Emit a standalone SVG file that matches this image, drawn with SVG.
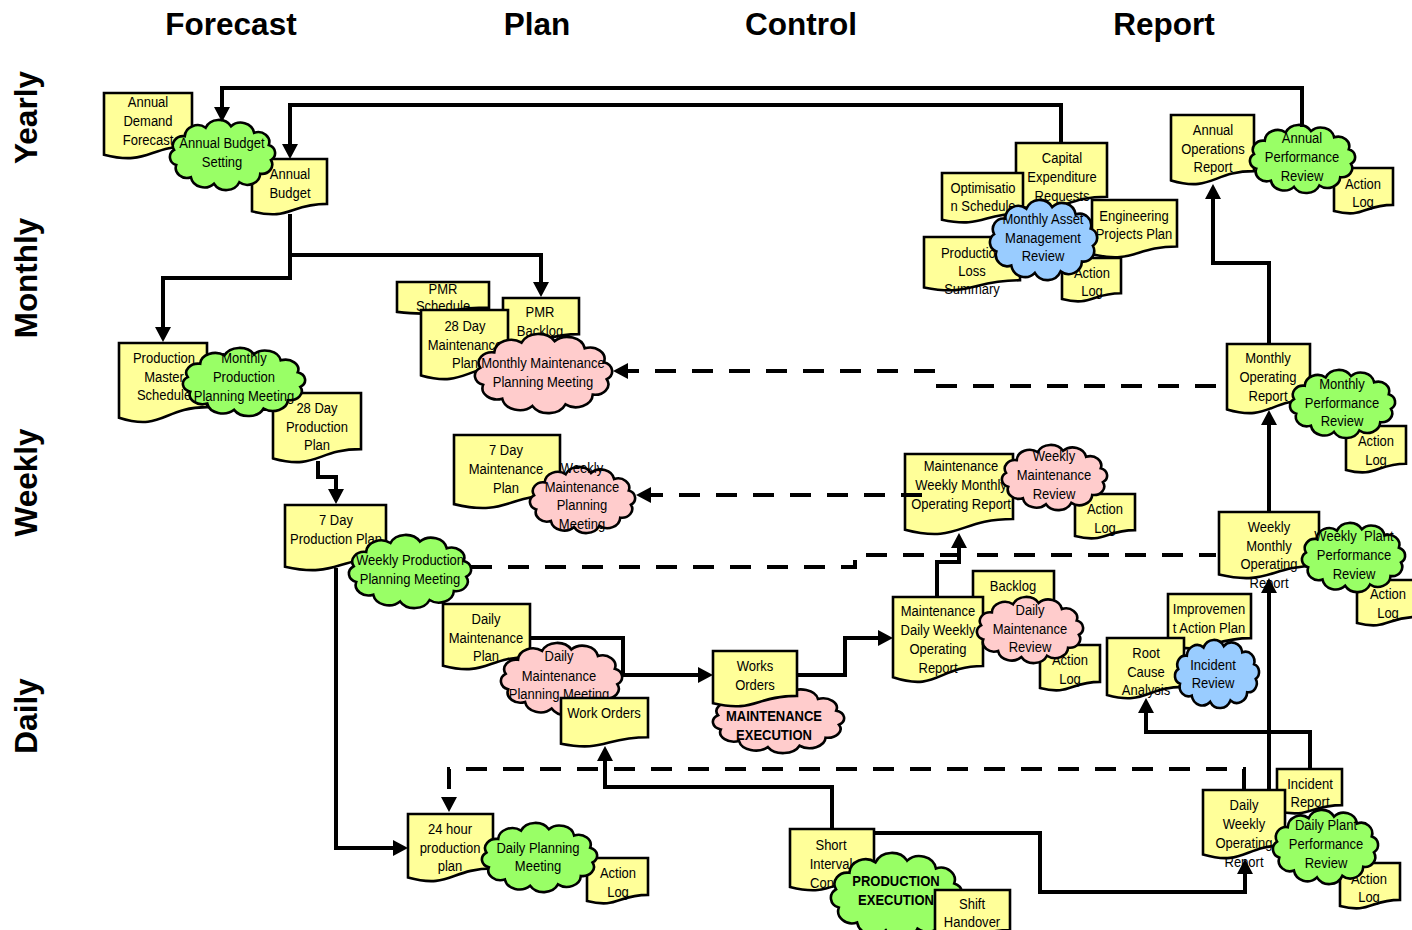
<svg xmlns="http://www.w3.org/2000/svg" width="1412" height="930" viewBox="0 0 1412 930">
<style>
  .doc { fill: #FFFF99; stroke: #000; stroke-width: 2.6; }
  .cl { stroke: #000; stroke-width: 2.6; }
  .green { fill: #99FF66; }
  .pink { fill: #FFCCCC; }
  .blue { fill: #99CCFF; }
  .t { font-family: "Liberation Sans", Arial, sans-serif; font-size: 15.5px; text-anchor: middle; fill: #000; }
  .b { font-weight: bold; }
  .hd { font-family: "Liberation Sans", Arial, sans-serif; font-size: 31.5px; font-weight: bold; text-anchor: middle; fill: #000; }
  .c { fill: none; stroke: #000; stroke-width: 4; stroke-linejoin: miter; }
  .d { stroke-dasharray: 21 16; }
</style>
<defs>
  <!-- flowchart document: box with wavy lower edge, 100x100 units -->
  <path id="doc" vector-effect="non-scaling-stroke" d="M0,0H100V80.2C50,80.2 50,110.7 0,93.4Z"/>
  <!-- cloud outline, fitted to a 100x70 unit box -->
  <path id="cloud" vector-effect="non-scaling-stroke" transform="translate(-2.08 0.49) scale(1.0417 0.986)" d="M5.7,29.9A9.5,9.5 0 0 1 15.5,16A11.8,11.8 0 0 1 34.6,7.3A13,13 0 0 1 57.8,5.9A12.4,12.4 0 0 1 78.9,12.4A10.2,10.2 0 0 1 92.3,24.9A8.57,8.57 0 0 1 94.3,40.1A9.5,9.5 0 0 1 84.5,54A11.8,11.8 0 0 1 65.4,62.7A13,13 0 0 1 42.2,64.1A12.4,12.4 0 0 1 21.1,57.6A10.2,10.2 0 0 1 7.7,45.1A8.57,8.57 0 0 1 5.7,29.9Z"/>
  <marker id="arr" markerUnits="userSpaceOnUse" markerWidth="16" markerHeight="16" viewBox="0 0 16 16" refX="5" refY="8" orient="auto">
    <path d="M0,0L15,8L0,16Z" fill="#000"/>
  </marker>
</defs>
<rect width="1412" height="930" fill="#fff"/>

<!-- column and row headings -->
<g id="headings">
  <text class="hd" x="231" y="35">Forecast</text>
  <text class="hd" x="537" y="35">Plan</text>
  <text class="hd" x="801" y="35">Control</text>
  <text class="hd" x="1164" y="35">Report</text>
  <text class="hd" transform="translate(37 117.5) rotate(-90)">Yearly</text>
  <text class="hd" transform="translate(37 278) rotate(-90)">Monthly</text>
  <text class="hd" transform="translate(37 482.5) rotate(-90)">Weekly</text>
  <text class="hd" transform="translate(37 716) rotate(-90)">Daily</text>
</g>

<!-- yearly forecast -->
<g id="annual-demand-forecast">
  <use href="#doc" class="doc" transform="translate(104 93) scale(.88 .66)"/>
  <text class="t" transform="translate(148 0) scale(.84 1)"><tspan x="0" y="107.5">Annual</tspan><tspan x="0" y="126.5">Demand</tspan><tspan x="0" y="145">Forecast</tspan></text>
</g>
<g id="annual-budget">
  <use href="#doc" class="doc" transform="translate(252 159) scale(.75 .56)"/>
  <text class="t" transform="translate(290 0) scale(.84 1)"><tspan x="0" y="179.5">Annual</tspan><tspan x="0" y="198.5">Budget</tspan></text>
</g>
<g id="annual-budget-setting">
  <use href="#cloud" class="cl green" transform="translate(170 120) scale(1.05 1)"/>
  <text class="t" transform="translate(222 0) scale(.84 1)"><tspan x="0" y="148">Annual Budget</tspan><tspan x="0" y="167.5">Setting</tspan></text>
</g>

<!-- monthly asset management -->
<g id="capital-expenditure-requests">
  <use href="#doc" class="doc" transform="translate(1016 143) scale(.91 .67)"/>
  <text class="t" transform="translate(1062 0) scale(.84 1)"><tspan x="0" y="163.5">Capital</tspan><tspan x="0" y="182.5">Expenditure</tspan><tspan x="0" y="201.5">Requests</tspan></text>
</g>
<g id="optimisation-schedule">
  <use href="#doc" class="doc" transform="translate(942 173) scale(.81 .5)"/>
  <text class="t" transform="translate(983 0) scale(.84 1)"><tspan x="0" y="193">Optimisatio</tspan><tspan x="0" y="211.5">n Schedule</tspan></text>
</g>
<g id="production-loss-summary">
  <use href="#doc" class="doc" transform="translate(924 237) scale(.96 .54)"/>
  <text class="t" transform="translate(972 0) scale(.84 1)"><tspan x="0" y="258.5">Production</tspan><tspan x="0" y="276.5">Loss</tspan><tspan x="0" y="294.5">Summary</tspan></text>
</g>
<g id="engineering-projects-plan">
  <use href="#doc" class="doc" transform="translate(1092 200) scale(.85 .58)"/>
  <text class="t" transform="translate(1134 0) scale(.84 1)"><tspan x="0" y="221.5">Engineering</tspan><tspan x="0" y="239.5">Projects Plan</tspan></text>
</g>
<g id="asset-action-log">
  <use href="#doc" class="doc" transform="translate(1062 258) scale(.59 .44)"/>
  <text class="t" transform="translate(1092 0) scale(.84 1)"><tspan x="0" y="278.5">Action</tspan><tspan x="0" y="296.5">Log</tspan></text>
</g>
<g id="monthly-asset-management-review">
  <use href="#cloud" class="cl blue" transform="translate(990 200) scale(1.07 1.143)"/>
  <text class="t" transform="translate(1043 0) scale(.84 1)"><tspan x="0" y="224.5">Monthly Asset</tspan><tspan x="0" y="243">Management</tspan><tspan x="0" y="261.5">Review</tspan></text>
</g>

<!-- yearly report -->
<g id="annual-operations-report">
  <use href="#doc" class="doc" transform="translate(1171 115) scale(.83 .7)"/>
  <text class="t" transform="translate(1213 0) scale(.84 1)"><tspan x="0" y="135.5">Annual</tspan><tspan x="0" y="154">Operations</tspan><tspan x="0" y="172.5">Report</tspan></text>
</g>
<g id="annual-action-log">
  <use href="#doc" class="doc" transform="translate(1334 168) scale(.59 .46)"/>
  <text class="t" transform="translate(1363 0) scale(.84 1)"><tspan x="0" y="189.5">Action</tspan><tspan x="0" y="207.5">Log</tspan></text>
</g>
<g id="annual-performance-review">
  <use href="#cloud" class="cl green" transform="translate(1250 125) scale(1.05 .971)"/>
  <text class="t" transform="translate(1302 0) scale(.84 1)"><tspan x="0" y="143">Annual</tspan><tspan x="0" y="162.5">Performance</tspan><tspan x="0" y="181.5">Review</tspan></text>
</g>

<!-- monthly plan -->
<g id="pmr-schedule">
  <use href="#doc" class="doc" transform="translate(397 282) scale(.92 .32)"/>
  <text class="t" transform="translate(443 0) scale(.84 1)"><tspan x="0" y="294.5">PMR</tspan><tspan x="0" y="311.5">Schedule</tspan></text>
</g>
<g id="pmr-backlog">
  <use href="#doc" class="doc" transform="translate(503 298) scale(.76 .45)"/>
  <text class="t" transform="translate(540 0) scale(.84 1)"><tspan x="0" y="317.5">PMR</tspan><tspan x="0" y="336.5">Backlog</tspan></text>
</g>
<g id="maintenance-plan-28-day">
  <use href="#doc" class="doc" transform="translate(421 310) scale(.87 .7)"/>
  <text class="t" transform="translate(465 0) scale(.84 1)"><tspan x="0" y="331.5">28 Day</tspan><tspan x="0" y="350.5">Maintenance</tspan><tspan x="0" y="368.5">Plan</tspan></text>
</g>
<g id="monthly-maintenance-planning-meeting">
  <use href="#cloud" class="cl pink" transform="translate(475 334) scale(1.37 1.129)"/>
  <text class="t" transform="translate(543 0) scale(.84 1)"><tspan x="0" y="368.5">Monthly Maintenance</tspan><tspan x="0" y="387">Planning Meeting</tspan></text>
</g>

<!-- monthly forecast -->
<g id="production-master-schedule">
  <use href="#doc" class="doc" transform="translate(119 343) scale(.88 .8)"/>
  <text class="t" transform="translate(164 0) scale(.84 1)"><tspan x="0" y="363.5">Production</tspan><tspan x="0" y="382.5">Master</tspan><tspan x="0" y="400.5">Schedule</tspan></text>
</g>
<g id="production-plan-28-day">
  <use href="#doc" class="doc" transform="translate(273 393) scale(.88 .7)"/>
  <text class="t" transform="translate(317 0) scale(.84 1)"><tspan x="0" y="413.5">28 Day</tspan><tspan x="0" y="432.5">Production</tspan><tspan x="0" y="450.5">Plan</tspan></text>
</g>
<g id="monthly-production-planning-meeting">
  <use href="#cloud" class="cl green" transform="translate(183 348) scale(1.22 .971)"/>
  <text class="t" transform="translate(244 0) scale(.84 1)"><tspan x="0" y="363.5">Monthly</tspan><tspan x="0" y="382.5">Production</tspan><tspan x="0" y="401">Planning Meeting</tspan></text>
</g>

<!-- weekly forecast -->
<g id="production-plan-7-day">
  <use href="#doc" class="doc" transform="translate(285 505) scale(1.01 .66)"/>
  <text class="t" transform="translate(336 0) scale(.84 1)"><tspan x="0" y="525.5">7 Day</tspan><tspan x="0" y="544.5">Production Plan</tspan></text>
</g>
<g id="weekly-production-planning-meeting">
  <use href="#cloud" class="cl green" transform="translate(349 535) scale(1.22 1.043)"/>
  <text class="t" transform="translate(410 0) scale(.84 1)"><tspan x="0" y="565.5">Weekly Production</tspan><tspan x="0" y="584.5">Planning Meeting</tspan></text>
</g>

<!-- weekly plan -->
<g id="maintenance-plan-7-day">
  <use href="#doc" class="doc" transform="translate(454 435) scale(1.06 .74)"/>
  <text class="t" transform="translate(506 0) scale(.84 1)"><tspan x="0" y="455.5">7 Day</tspan><tspan x="0" y="474.5">Maintenance</tspan><tspan x="0" y="493.5">Plan</tspan></text>
</g>
<g id="weekly-maintenance-planning-meeting">
  <use href="#cloud" class="cl pink" transform="translate(530 467) scale(1.05 .943)"/>
  <text class="t" transform="translate(582 0) scale(.84 1)"><tspan x="0" y="473.5">Weekly</tspan><tspan x="0" y="492.5">Maintenance</tspan><tspan x="0" y="510.5">Planning</tspan><tspan x="0" y="529.5">Meeting</tspan></text>
</g>

<!-- weekly control -->
<g id="maintenance-weekly-monthly-operating-report">
  <use href="#doc" class="doc" transform="translate(905 454) scale(1.08 .81)"/>
  <text class="t" transform="translate(961 0) scale(.84 1)"><tspan x="0" y="471.5">Maintenance</tspan><tspan x="0" y="490.5">Weekly Monthly</tspan><tspan x="0" y="509.5">Operating Report</tspan></text>
</g>
<g id="weekly-maintenance-action-log">
  <use href="#doc" class="doc" transform="translate(1075 494) scale(.6 .45)"/>
  <text class="t" transform="translate(1105 0) scale(.84 1)"><tspan x="0" y="514.5">Action</tspan><tspan x="0" y="533.5">Log</tspan></text>
</g>
<g id="weekly-maintenance-review">
  <use href="#cloud" class="cl pink" transform="translate(1002 445) scale(1.05 .929)"/>
  <text class="t" transform="translate(1054 0) scale(.84 1)"><tspan x="0" y="461.5">Weekly</tspan><tspan x="0" y="480.5">Maintenance</tspan><tspan x="0" y="499.5">Review</tspan></text>
</g>

<!-- monthly / weekly report -->
<g id="monthly-operating-report">
  <use href="#doc" class="doc" transform="translate(1227 344) scale(.83 .7)"/>
  <text class="t" transform="translate(1268 0) scale(.84 1)"><tspan x="0" y="363.5">Monthly</tspan><tspan x="0" y="382.5">Operating</tspan><tspan x="0" y="401.5">Report</tspan></text>
</g>
<g id="monthly-performance-action-log">
  <use href="#doc" class="doc" transform="translate(1346 426) scale(.6 .47)"/>
  <text class="t" transform="translate(1376 0) scale(.84 1)"><tspan x="0" y="446.5">Action</tspan><tspan x="0" y="465.5">Log</tspan></text>
</g>
<g id="monthly-performance-review">
  <use href="#cloud" class="cl green" transform="translate(1290 370) scale(1.05 .971)"/>
  <text class="t" transform="translate(1342 0) scale(.84 1)"><tspan x="0" y="389">Monthly</tspan><tspan x="0" y="408">Performance</tspan><tspan x="0" y="426.5">Review</tspan></text>
</g>
<g id="weekly-monthly-operating-report">
  <use href="#doc" class="doc" transform="translate(1219 512) scale(1 .67)"/>
  <text class="t" transform="translate(1269 0) scale(.84 1)"><tspan x="0" y="532.5">Weekly</tspan><tspan x="0" y="551.5">Monthly</tspan><tspan x="0" y="569.5">Operating</tspan><tspan x="0" y="588.5">Report</tspan></text>
</g>
<g id="weekly-plant-action-log">
  <use href="#doc" class="doc" transform="translate(1357 580) scale(.6 .46)"/>
  <text class="t" transform="translate(1388 0) scale(.84 1)"><tspan x="0" y="599.5">Action</tspan><tspan x="0" y="618.5">Log</tspan></text>
</g>
<g id="weekly-plant-performance-review">
  <use href="#cloud" class="cl green" transform="translate(1302 523) scale(1.03 .986)"/>
  <text class="t" transform="translate(1354 0) scale(.84 1)"><tspan x="0" y="541.5">Weekly&#160; Plant</tspan><tspan x="0" y="560.5">Performance</tspan><tspan x="0" y="579.5">Review</tspan></text>
</g>

<!-- daily plan -->
<g id="daily-maintenance-plan">
  <use href="#doc" class="doc" transform="translate(443 604) scale(.87 .66)"/>
  <text class="t" transform="translate(486 0) scale(.84 1)"><tspan x="0" y="624.5">Daily</tspan><tspan x="0" y="643">Maintenance</tspan><tspan x="0" y="661.5">Plan</tspan></text>
</g>
<g id="daily-maintenance-planning-meeting">
  <use href="#cloud" class="cl pink" transform="translate(501 643) scale(1.21 1.029)"/>
  <text class="t" transform="translate(559 0) scale(.84 1)"><tspan x="0" y="661.5">Daily</tspan><tspan x="0" y="681">Maintenance</tspan><tspan x="0" y="699.5">Planning Meeting</tspan></text>
</g>
<g id="work-orders">
  <use href="#doc" class="doc" transform="translate(561 698) scale(.87 .49)"/>
  <text class="t" transform="translate(604 0) scale(.84 1)"><tspan x="0" y="718.5">Work Orders</tspan></text>
</g>
<g id="production-plan-24-hour">
  <use href="#doc" class="doc" transform="translate(408 814) scale(.85 .68)"/>
  <text class="t" transform="translate(450 0) scale(.84 1)"><tspan x="0" y="834.5">24 hour</tspan><tspan x="0" y="853.5">production</tspan><tspan x="0" y="871.5">plan</tspan></text>
</g>
<g id="daily-planning-action-log">
  <use href="#doc" class="doc" transform="translate(587 858) scale(.61 .46)"/>
  <text class="t" transform="translate(618 0) scale(.84 1)"><tspan x="0" y="878.5">Action</tspan><tspan x="0" y="897.5">Log</tspan></text>
</g>
<g id="daily-planning-meeting">
  <use href="#cloud" class="cl green" transform="translate(482 823) scale(1.15 .986)"/>
  <text class="t" transform="translate(538 0) scale(.84 1)"><tspan x="0" y="853.5">Daily Planning</tspan><tspan x="0" y="871.5">Meeting</tspan></text>
</g>

<!-- daily control -->
<g id="maintenance-execution">
  <use href="#cloud" class="cl pink" transform="translate(713 687) scale(1.31 .943)"/>
  <text class="t b" transform="translate(774 0) scale(.84 1)"><tspan x="0" y="721.5">MAINTENANCE</tspan><tspan x="0" y="740">EXECUTION</tspan></text>
</g>
<g id="works-orders">
  <use href="#doc" class="doc" transform="translate(713 651) scale(.84 .56)"/>
  <text class="t" transform="translate(755 0) scale(.84 1)"><tspan x="0" y="671.5">Works</tspan><tspan x="0" y="690.5">Orders</tspan></text>
</g>
<g id="backlog">
  <use href="#doc" class="doc" transform="translate(973 571) scale(.81 .45)"/>
  <text class="t" transform="translate(1013 0) scale(.84 1)"><tspan x="0" y="591.5">Backlog</tspan></text>
</g>
<g id="maintenance-daily-weekly-operating-report">
  <use href="#doc" class="doc" transform="translate(893 597) scale(.9 .86)"/>
  <text class="t" transform="translate(938 0) scale(.84 1)"><tspan x="0" y="616.5">Maintenance</tspan><tspan x="0" y="635.5">Daily Weekly</tspan><tspan x="0" y="654.5">Operating</tspan><tspan x="0" y="673">Report</tspan></text>
</g>
<g id="daily-maintenance-action-log">
  <use href="#doc" class="doc" transform="translate(1040 645) scale(.6 .46)"/>
  <text class="t" transform="translate(1070 0) scale(.84 1)"><tspan x="0" y="665.5">Action</tspan><tspan x="0" y="684.5">Log</tspan></text>
</g>
<g id="daily-maintenance-review">
  <use href="#cloud" class="cl pink" transform="translate(977 597) scale(1.06 .943)"/>
  <text class="t" transform="translate(1030 0) scale(.84 1)"><tspan x="0" y="615.5">Daily</tspan><tspan x="0" y="634.5">Maintenance</tspan><tspan x="0" y="652.5">Review</tspan></text>
</g>
<g id="short-interval-control">
  <use href="#doc" class="doc" transform="translate(790 829) scale(.84 .62)"/>
  <text class="t" transform="translate(831 0) scale(.84 1)"><tspan x="0" y="850.5">Short</tspan><tspan x="0" y="869.5">Interval</tspan><tspan x="0" y="888.5">Control</tspan></text>
</g>
<g id="production-execution">
  <use href="#cloud" class="cl green" transform="translate(831 853) scale(1.31 1.214)"/>
  <text class="t b" transform="translate(896 0) scale(.84 1)"><tspan x="0" y="886.5">PRODUCTION</tspan><tspan x="0" y="905">EXECUTION</tspan></text>
</g>
<g id="shift-handover">
  <use href="#doc" class="doc" transform="translate(935 890) scale(.75 .5)"/>
  <text class="t" transform="translate(972 0) scale(.84 1)"><tspan x="0" y="909.5">Shift</tspan><tspan x="0" y="927.5">Handover</tspan></text>
</g>

<!-- daily report -->
<g id="improvement-action-plan">
  <use href="#doc" class="doc" transform="translate(1168 594) scale(.83 .55)"/>
  <text class="t" transform="translate(1209 0) scale(.84 1)"><tspan x="0" y="614.5">Improvemen</tspan><tspan x="0" y="633">t Action Plan</tspan></text>
</g>
<g id="root-cause-analysis">
  <use href="#doc" class="doc" transform="translate(1107 638) scale(.77 .61)"/>
  <text class="t" transform="translate(1146 0) scale(.84 1)"><tspan x="0" y="658.5">Root</tspan><tspan x="0" y="677.5">Cause</tspan><tspan x="0" y="695.5">Analysis</tspan></text>
</g>
<g id="incident-review">
  <use href="#cloud" class="cl blue" transform="translate(1175 640) scale(.84 .971)"/>
  <text class="t" transform="translate(1213 0) scale(.84 1)"><tspan x="0" y="670.5">Incident</tspan><tspan x="0" y="688.5">Review</tspan></text>
</g>
<g id="incident-report">
  <use href="#doc" class="doc" transform="translate(1277 769) scale(.65 .45)"/>
  <text class="t" transform="translate(1310 0) scale(.84 1)"><tspan x="0" y="789.5">Incident</tspan><tspan x="0" y="807.5">Report</tspan></text>
</g>
<g id="daily-weekly-operating-report">
  <use href="#doc" class="doc" transform="translate(1203 790) scale(.82 .69)"/>
  <text class="t" transform="translate(1244 0) scale(.84 1)"><tspan x="0" y="810.5">Daily</tspan><tspan x="0" y="829.5">Weekly</tspan><tspan x="0" y="848.5">Operating</tspan><tspan x="0" y="867.5">Report</tspan></text>
</g>
<g id="daily-plant-action-log">
  <use href="#doc" class="doc" transform="translate(1340 863) scale(.6 .46)"/>
  <text class="t" transform="translate(1369 0) scale(.84 1)"><tspan x="0" y="884.5">Action</tspan><tspan x="0" y="902.5">Log</tspan></text>
</g>
<g id="daily-plant-performance-review">
  <use href="#cloud" class="cl green" transform="translate(1273 810) scale(1.05 1.057)"/>
  <text class="t" transform="translate(1326 0) scale(.84 1)"><tspan x="0" y="830.5">Daily Plant</tspan><tspan x="0" y="849.5">Performance</tspan><tspan x="0" y="868">Review</tspan></text>
</g>

<!-- connectors -->
<g id="connectors">
  <path class="c" marker-end="url(#arr)" d="M1302,127V88H222V112"/>
  <path class="c" marker-end="url(#arr)" d="M1061,144V105H290V149"/>
  <path class="c" marker-end="url(#arr)" d="M290,214V278H163V332"/>
  <path class="c" marker-end="url(#arr)" d="M290,255H541V287"/>
  <path class="c d" marker-end="url(#arr)" d="M1216,386H933V371H623"/>
  <path class="c" marker-end="url(#arr)" d="M1269,344V263H1213V194"/>
  <path class="c" marker-end="url(#arr)" d="M318,461V477H336V494"/>
  <path class="c d" d="M471,567H855V555H1216"/>
  <path class="c" marker-end="url(#arr)" d="M336,568V848H398"/>
  <path class="c d" marker-end="url(#arr)" d="M922,495H646"/>
  <path class="c" marker-end="url(#arr)" d="M937,597V562H959V543"/>
  <path class="c" marker-end="url(#arr)" d="M1269,512V420"/>
  <path class="c" marker-end="url(#arr)" d="M1269,790V588"/>
  <path class="c" marker-end="url(#arr)" d="M530,638H623V675H703"/>
  <path class="c" marker-end="url(#arr)" d="M832,829V787H605V756"/>
  <path class="c d" marker-end="url(#arr)" d="M1244,789V769H449V802"/>
  <path class="c" marker-end="url(#arr)" d="M797,675H845V638H883"/>
  <path class="c" marker-end="url(#arr)" d="M1310,769V732H1146V708"/>
  <path class="c" marker-end="url(#arr)" d="M874,833H1040V892H1245V869"/>
</g>
</svg>
